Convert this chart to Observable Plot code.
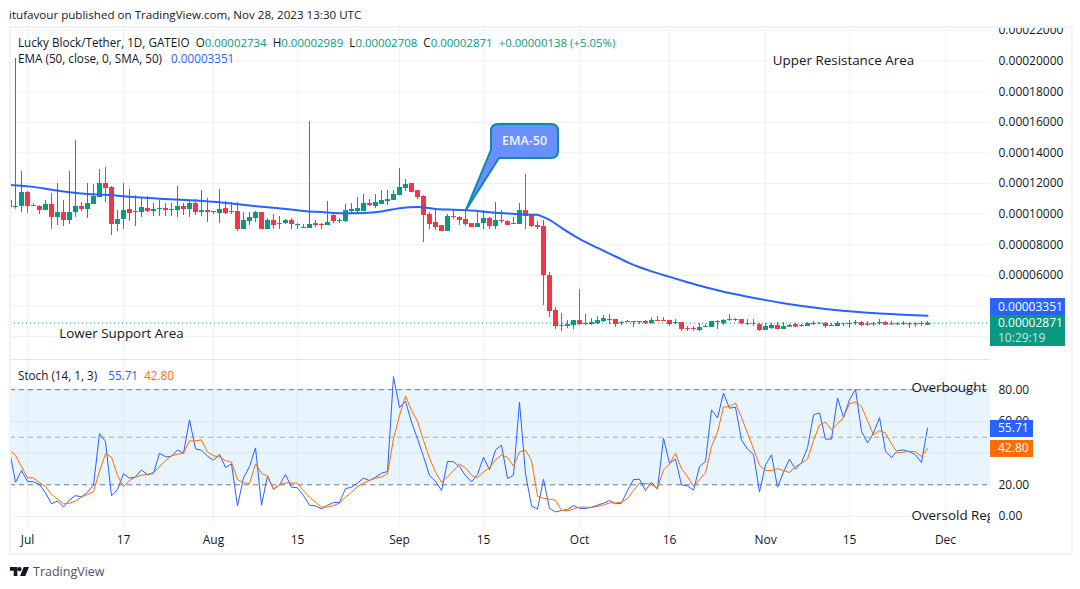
<!DOCTYPE html>
<html><head><meta charset="utf-8">
<script src="https://cdn.jsdelivr.net/npm/d3@7"></script>
<script src="https://cdn.jsdelivr.net/npm/@observablehq/plot@0.6"></script>
<style>
html,body{margin:0;padding:0;background:#fff;width:1080px;height:589px;overflow:hidden}
body{position:relative;font-family:"Open Sans",sans-serif;color:#131722}
.abs{position:absolute;white-space:pre;line-height:16px}
#frame{position:absolute;left:9px;top:26px;width:1060px;height:525px;border:2px solid #f0f3fa;box-sizing:content-box;z-index:2}
#cover{position:absolute;left:992px;top:14px;width:76px;height:13px;background:#fff;z-index:1}
svg{position:absolute;left:0;background:transparent;overflow:visible}
.g{color:#089981;font-size:11.45px}.b{color:#2962ff}.o{color:#ff6d00}
</style></head><body>
<div id="frame"></div>
<div id="top"></div><div id="bottom"></div>
<div id="cover"></div>
<div class="abs" style="left:9px;top:7px;font-size:11.6px">itufavour published on TradingView.com, Nov 28, 2023 13:30 UTC</div>
<div class="abs" style="left:18px;top:34px;font-size:11.7px">Lucky Block/Tether, 1D, GATEIO  O<span class="g">0.00002734</span>  H<span class="g">0.00002989</span>  L<span class="g">0.00002708</span>  C<span class="g">0.00002871</span>  <span class="g">+0.00000138 (+5.05%)</span></div>
<div class="abs" style="left:18px;top:50px;font-size:11.7px">EMA (50, close, 0, SMA, 50)  <span class="b" style="margin-left:3px">0.00003351</span></div>
<div class="abs" style="left:18px;top:367px;font-size:11.7px">Stoch (14, 1, 3)  <span class="b" style="margin-left:5px">55.71</span>  <span class="o">42.80</span></div>
<svg style="left:10px;top:567px" width="19" height="9" viewBox="0 0 36 17"><path fill="#131722" d="M0 0h14v17H7V7H0zM19 17L26 0h10l-7 17zM22 4a4 4 0 1 1-8 0 4 4 0 0 1 8 0z"/></svg>
<div class="abs" style="left:33px;top:564px;font-size:12.5px;color:#50535e">TradingView</div>
<script>
// All prices are in units of 0.00001. Index 0 of the daily arrays is 2023-06-28.
const firstDay = Date.UTC(2023, 5, 28);
const opens = [
10.89,10.43,10.50,11.41,10.56,10.50,10.23,10.63,9.78,10.10,
9.58,10.10,10.50,10.30,10.63,11.08,12.00,11.74,9.32,9.65,
10.30,10.10,10.10,10.37,10.17,10.30,10.37,10.23,10.23,10.50,
10.30,10.69,10.10,10.23,10.17,10.04,10.37,10.10,10.17,8.99,
9.51,9.71,10.10,8.99,9.58,9.32,9.38,9.58,9.25,9.06,
9.06,9.38,9.32,9.25,9.91,9.51,9.51,10.17,10.17,10.17,
10.69,10.50,10.63,10.82,10.89,11.21,11.67,12.00,11.54,11.15,
9.97,9.45,9.25,8.86,9.84,9.78,9.65,9.38,9.12,9.38,
9.71,9.19,9.58,9.51,9.32,9.32,10.23,9.91,9.25,9.19,
5.98,3.70,2.71,2.65,2.71,3.04,2.85,2.78,2.85,2.98,
3.11,3.11,2.85,2.91,2.98,2.91,2.98,2.83,3.05,3.05,
3.05,2.85,2.91,2.52,2.52,2.39,2.59,2.59,2.98,2.83,
3.05,3.05,3.11,2.83,2.83,2.78,2.39,2.52,2.72,2.46,
2.61,2.78,2.65,2.65,2.78,2.83,2.87,2.65,2.65,2.83,
2.78,2.85,2.91,2.83,2.76,2.83,2.91,2.83,2.76,2.78,
2.83,2.83,2.85,2.734];
const highs = [
10.89,20.17,12.78,11.48,10.67,10.56,10.89,11.35,12.00,10.89,
12.78,14.81,10.76,12.00,11.93,12.91,13.05,11.80,10.23,12.00,
11.61,11.21,11.02,11.15,10.69,10.89,10.69,10.69,11.80,10.69,
10.89,10.95,11.54,11.02,10.17,11.61,10.82,10.76,10.76,10.10,
10.10,10.17,10.10,9.71,9.97,9.84,9.65,9.71,9.38,9.32,
16.05,9.58,9.38,10.82,9.97,9.71,10.63,10.69,11.08,11.28,
10.95,11.28,11.54,11.54,11.54,12.98,12.26,12.00,11.54,11.21,
10.10,10.30,9.25,9.97,10.30,9.84,10.17,9.38,10.10,10.23,
9.78,10.76,10.23,9.58,9.78,10.69,12.59,9.97,9.51,9.58,
6.18,3.89,3.50,3.04,3.04,5.07,3.44,3.17,3.30,3.37,
3.44,3.11,2.98,3.04,2.98,2.98,3.05,3.22,3.31,3.24,
3.05,3.11,2.91,2.65,2.65,2.85,2.78,2.98,3.05,3.11,
3.44,3.18,3.11,3.11,3.11,2.85,2.85,2.85,2.91,2.91,
2.78,2.85,2.78,2.91,2.98,2.91,2.91,2.85,2.98,2.85,
3.05,3.05,2.98,2.98,2.91,3.11,2.98,2.98,2.91,2.98,
2.91,2.91,2.98,2.989];
const lows = [
10.43,10.32,10.10,10.04,10.50,9.97,10.23,8.99,9.25,9.19,
9.32,9.78,10.17,9.71,10.63,11.08,10.76,8.60,8.86,8.99,
9.51,9.19,9.78,10.10,9.84,9.84,9.84,9.84,9.78,9.91,
9.78,9.91,9.84,9.45,9.97,9.38,9.97,9.97,8.86,8.99,
9.25,9.45,8.99,8.99,8.99,8.99,9.32,8.99,8.99,9.06,
9.06,9.12,8.99,9.25,9.38,9.38,9.45,9.97,10.04,10.17,
10.50,10.36,10.63,10.56,10.89,11.21,11.48,11.41,10.95,8.14,
8.99,8.93,8.86,8.86,9.65,9.25,9.19,9.12,9.12,8.99,
8.99,8.99,9.38,9.25,9.32,9.32,8.99,9.12,8.99,4.02,
3.24,2.45,2.32,2.52,2.45,2.71,2.71,2.71,2.78,2.91,
2.78,2.59,2.71,2.91,2.59,2.78,2.78,2.83,2.98,2.98,
2.65,2.78,2.33,2.33,2.33,2.33,2.59,2.59,2.46,2.72,
2.98,2.98,2.78,2.72,2.65,2.33,2.39,2.46,2.46,2.46,
2.59,2.59,2.59,2.65,2.72,2.78,2.52,2.65,2.65,2.65,
2.52,2.72,2.65,2.65,2.65,2.72,2.72,2.72,2.72,2.72,
2.52,2.59,2.65,2.708];
const closes = [
10.43,10.50,11.41,10.50,10.50,10.23,10.63,9.78,10.10,9.58,
10.10,10.50,10.30,10.69,11.15,12.00,11.67,9.32,9.65,10.23,
10.04,10.17,10.43,10.17,10.30,10.37,10.23,10.30,10.50,10.30,
10.69,10.10,10.23,10.10,10.10,10.30,10.04,10.17,8.99,9.58,
9.78,10.10,8.99,9.58,9.25,9.38,9.58,9.32,9.32,9.12,
9.32,9.25,9.25,9.45,9.51,9.58,10.23,10.30,10.36,10.69,
10.56,10.76,10.89,10.95,11.28,11.74,11.93,11.41,11.08,9.91,
9.32,9.12,8.86,9.84,9.78,9.58,9.32,9.12,9.38,9.71,
9.19,9.58,9.51,9.25,9.38,10.23,9.84,9.19,9.12,5.98,
3.63,2.65,2.65,2.78,3.04,2.78,2.78,2.91,3.04,3.17,
3.04,2.78,2.91,2.98,2.91,2.98,2.83,3.05,2.98,2.98,
2.78,2.91,2.46,2.46,2.46,2.59,2.65,2.98,2.91,3.05,
3.11,3.11,2.83,2.78,2.78,2.39,2.65,2.72,2.46,2.65,
2.72,2.61,2.72,2.85,2.85,2.87,2.65,2.72,2.85,2.78,
2.85,2.91,2.72,2.74,2.83,2.91,2.74,2.76,2.83,2.85,
2.76,2.76,2.78,2.871];
const stochK = [
41.6,21.6,29.0,22.1,21.9,20.2,14.9,8.0,9.7,5.9,
10.5,13.2,12.4,15.3,19.7,52.3,47.3,13.0,17.0,26.9,
24.2,25.0,29.4,26.3,27.3,39.9,37.6,38.0,42.0,39.9,
61.0,42.7,41.8,38.0,35.5,39.3,30.9,33.2,6.7,24.4,
31.5,43.3,7.1,25.6,17.2,20.0,26.5,18.5,18.1,13.2,
7.1,6.7,4.8,7.1,8.8,8.8,17.6,18.5,21.0,24.2,
22.7,24.8,27.3,28.4,88.3,68.7,72.7,59.5,49.0,37.8,
25.8,22.3,16.4,34.7,34.5,31.5,25.8,21.9,26.5,37.4,
29.4,42.0,45.0,24.0,26.1,72.1,26.9,6.7,4.6,23.5,
5.0,2.9,3.8,4.4,6.9,5.2,5.0,5.9,7.1,8.4,
10.1,8.0,8.4,16.4,23.3,23.5,16.4,21.6,17.2,49.4,
33.6,36.2,20.0,19.3,16.6,31.5,34.7,67.3,62.2,77.8,
68.3,69.0,48.3,42.5,39.1,15.5,32.6,38.9,18.5,28.0,
36.2,29.8,34.0,43.3,64.1,65.4,48.8,48.8,74.8,62.6,
73.6,80.3,53.8,46.4,52.6,62.4,41.2,37.2,41.6,42.0,
40.8,38.9,34.0,55.71];
const stochD = [
42.0,38.5,31.5,24.4,24.4,21.2,18.9,13.9,10.9,8.0,
8.4,9.7,12.2,13.9,15.8,28.6,39.5,37.4,25.8,18.9,
22.7,24.8,26.1,26.5,27.7,31.5,35.3,38.3,39.3,39.9,
47.7,47.7,48.3,40.6,38.3,37.6,35.3,34.3,23.3,21.2,
20.8,33.2,27.3,25.4,17.0,20.0,21.2,21.2,21.0,16.2,
12.2,9.0,5.9,6.1,6.9,8.4,12.2,15.3,18.9,21.0,
22.7,24.2,25.0,26.9,49.0,63.7,76.1,66.9,60.1,47.9,
36.8,28.0,21.6,24.8,29.0,33.0,30.7,26.1,24.4,28.2,
30.7,35.7,38.9,37.2,31.9,40.8,41.8,35.3,12.8,11.5,
10.9,10.3,3.8,3.6,4.8,5.9,5.9,5.7,6.3,7.3,
8.6,8.6,9.0,11.3,16.4,21.0,20.8,20.2,17.9,29.4,
33.2,39.9,30.1,25.2,18.9,23.3,27.5,44.1,53.2,69.0,
69.4,71.5,62.6,52.6,42.7,32.4,29.0,29.0,30.1,29.0,
27.7,31.5,33.6,36.2,47.9,57.8,59.5,54.7,58.4,62.6,
71.1,72.3,69.4,60.5,51.5,54.2,52.6,45.8,40.1,40.6,
41.2,40.8,37.8,42.80];
// EMA-50 (day offsets from the first array index)
const emaOffsets = [0,4,7,10,13,16,19,22,25,28,31,34,37,40,43,46,49,52,55,59,62,65,68,71,74,77,80,83,86,88,89,90,92,95,98,101,104,105,107,110,113,116,118,123,129,136,142,148,153];
const emaValues = [11.91,11.78,11.59,11.43,11.32,11.26,11.17,11.08,11.00,10.95,10.89,10.80,10.69,10.56,10.45,10.34,10.21,10.13,10.06,10.08,10.17,10.39,10.47,10.34,10.28,10.23,10.12,10.04,9.97,9.95,9.80,9.62,9.10,8.38,7.79,7.23,6.68,6.53,6.26,5.90,5.55,5.22,5.02,4.60,4.18,3.80,3.58,3.44,3.351];

const priceTicks = [6,8,10,12,14,16,18,20,22];
const stochTicks = [0,20,40,60,80];
const dateTicks = ["2023-07-01","2023-07-17","2023-08-01","2023-08-15","2023-09-01","2023-09-15","2023-10-01","2023-10-16","2023-11-01","2023-11-15","2023-12-01"].map(d => new Date(d));
const dateLabels = ["Jul","17","Aug","15","Sep","15","Oct","16","Nov","15","Dec"];

const GREEN = "#089981", RED = "#f23645", BLUE = "#2962ff", ORANGE = "#ff6d00", GRID = "#eff1f6";
const dayDate = i => new Date(firstDay + i * 864e5);
const candles = opens.map((o, i) => ({date: dayDate(i), o, h: highs[i], l: lows[i], c: closes[i], col: closes[i] >= o ? GREEN : RED}));
const ema = emaOffsets.map((d, i) => ({date: dayDate(d), v: emaValues[i]}));
const xDomain = [new Date(Date.UTC(2023, 5, 28, 4)), new Date(Date.UTC(2023, 11, 8, 12))];
const FONT = '"Open Sans",sans-serif';

function badge(value, lines, fill, h, w, dy) {
  return (index, {y}, values, dim) => {
    const g = d3.create("svg:g");
    const x0 = dim.width - dim.marginRight, y0 = y(value) + dy;
    g.append("rect").attr("x", x0).attr("y", y0).attr("width", w).attr("height", h).attr("fill", fill);
    lines.forEach((t, k) => g.append("text").attr("x", x0 + 8).attr("y", y0 + 12.5 + k * 15).attr("text-anchor", "start")
      .attr("fill", k ? "rgba(255,255,255,.8)" : "#fff").attr("font-size", 12).attr("font-family", FONT).attr("font-weight", 500).text(t));
    return g.node();
  };
}
function callout(index, {x, y}) {
  const tipX = x(new Date(Date.UTC(2023, 8, 12, 4))), tipY = y(10.24);
  const g = d3.create("svg:g");
  const bx = tipX + 25, by = tipY - 86, bw = 67, bh = 34, r = 7;
  g.append("path").attr("fill", "#6a8fff").attr("stroke", "#1089a8").attr("stroke-width", 2).attr("stroke-linejoin", "round")
   .attr("d", `M${bx + r},${by}H${bx + bw - r}Q${bx + bw},${by} ${bx + bw},${by + r}V${by + bh - r}Q${bx + bw},${by + bh} ${bx + bw - r},${by + bh}H${bx + 8}L${tipX},${tipY}L${bx},${by + 26}V${by + r}Q${bx},${by} ${bx + r},${by}Z`);
  g.append("text").attr("x", bx + bw / 2).attr("y", by + 21.5).attr("text-anchor", "middle").attr("fill", "#f2f5ff").attr("font-size", 12.5).attr("font-family", FONT).attr("font-weight", 600).text("EMA-50");
  return g.node();
}

const pricePlot = Plot.plot({
  width: 1080, height: 360, marginTop: 27, marginBottom: 1, marginLeft: 10, marginRight: 90,
  style: {background: "transparent", fontFamily: FONT, overflow: "visible"},
  x: {type: "utc", domain: xDomain, axis: null},
  y: {domain: [0.497, 22.196], axis: null},
  marks: [
    Plot.ruleX(dateTicks, {stroke: GRID}),
    Plot.ruleY(priceTicks.concat([4, 2]), {stroke: GRID}),
    Plot.ruleY([0.497], {stroke: "#e0e3eb"}),
    Plot.axisY({ticks: priceTicks, anchor: "right", tickSize: 0, tickPadding: 8, fontSize: 12, tickFormat: v => (v * 1e-5).toFixed(8), color: "#131722", label: null}),
    Plot.ruleY([closes[closes.length - 1]], {stroke: GREEN, strokeDasharray: "1,3"}),
    Plot.ruleX(candles, {x: "date", y1: "l", y2: "h", stroke: "col", strokeWidth: 1, clip: true}),
    Plot.ruleX(candles, {x: "date", y1: "o", y2: "c", stroke: "col", strokeWidth: 5, clip: true}),
    Plot.line(ema, {x: "date", y: "v", stroke: BLUE, strokeWidth: 2, curve: "monotone-x", clip: true}),
    Plot.text(["Upper Resistance Area"], {x: [new Date("2023-11-14")], y: [20.0], text: d => d, textAnchor: "middle", fontSize: 13.4, fill: "#131722"}),
    Plot.text(["Lower Support Area"], {x: [new Date("2023-07-16T16:00Z")], y: [2.2], text: d => d, textAnchor: "middle", fontSize: 13.4, fill: "#131722"}),
    callout,
    badge(emaValues[emaValues.length - 1], ["0.00003351"], BLUE, 17, 75, -17.3),
    badge(closes[closes.length - 1], ["0.00002871", "10:29:19"], GREEN, 31, 75, -7.7)
  ]
});
pricePlot.style.top = "0px";
document.getElementById("top").append(pricePlot);

const stochPlot = Plot.plot({
  width: 1080, height: 194, marginTop: 0, marginBottom: 28, marginLeft: 10, marginRight: 90,
  style: {background: "transparent", fontFamily: FONT, overflow: "visible"},
  x: {type: "utc", domain: xDomain, axis: null},
  y: {domain: [-6.31, 98.42], axis: null},
  marks: [
    Plot.ruleX(dateTicks, {stroke: GRID}),
    Plot.ruleY(stochTicks, {stroke: GRID}),
    Plot.rect([0], {x1: xDomain[0], x2: xDomain[1], y1: 20, y2: 80, fill: "#2196f3", fillOpacity: 0.1}),
    Plot.ruleY([20, 80], {stroke: "#787b86", strokeDasharray: "5,4"}),
    Plot.ruleY([50], {stroke: "#a8adb8", strokeDasharray: "5,4"}),
    Plot.axisY({ticks: stochTicks, anchor: "right", tickSize: 0, tickPadding: 8, fontSize: 12, tickFormat: v => v.toFixed(2), color: "#131722", label: null}),
    Plot.axisX({ticks: dateTicks, tickSize: 0, tickPadding: 9, fontSize: 12, tickFormat: d => dateLabels[dateTicks.findIndex(t => +t === +d)], color: "#131722", label: null}),
    Plot.line(candles.map((c, i) => ({date: c.date, v: stochK[i]})), {x: "date", y: "v", stroke: BLUE, strokeWidth: 1, clip: true}),
    Plot.line(candles.map((c, i) => ({date: c.date, v: stochD[i]})), {x: "date", y: "v", stroke: ORANGE, strokeWidth: 1, clip: true}),
    Plot.text(["Overbought Region"], {x: [new Date("2023-11-25T08:00Z")], y: [81], text: d => d, textAnchor: "start", fontSize: 13.4, fill: "#131722", clip: true}),
    Plot.text(["Oversold Region"], {x: [new Date("2023-11-25T08:00Z")], y: [0.6], text: d => d, textAnchor: "start", fontSize: 13.4, fill: "#131722", clip: true}),
    badge(stochK[stochK.length - 1], ["55.71"], BLUE, 17, 43, -7.7),
    badge(stochD[stochD.length - 1], ["42.80"], ORANGE, 17, 43, -8.2)
  ]
});
stochPlot.style.top = "360px";
document.getElementById("bottom").append(stochPlot);
</script></body></html>
